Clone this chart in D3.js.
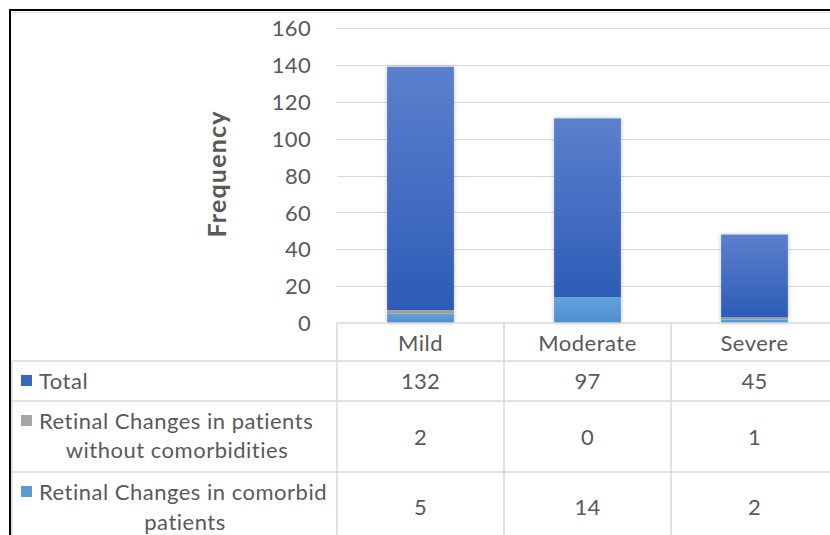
<!DOCTYPE html>
<html>
<head>
<meta charset="utf-8">
<script src="https://cdn.jsdelivr.net/npm/d3@7"></script>
<style>
  html, body { margin: 0; padding: 0; background: #fff; }
  svg { display: block; }
  text { font-family: Lato, "Open Sans", sans-serif; fill: #595959; }
</style>
</head>
<body>
<svg id="chart" width="830" height="535"></svg>
<script>
// ---- data ----
const categories = ["Mild", "Moderate", "Severe"];
const totalValues = [132, 97, 45];
const withoutComorbValues = [2, 0, 1];
const comorbidValues = [5, 14, 2];
const yTicks = [0, 20, 40, 60, 80, 100, 120, 140, 160];
const seriesNames = ["Total", "Retinal Changes in patients without comorbidities", "Retinal Changes in comorbid patients"];

const svg = d3.select("#chart");
const W = 830, H = 535;

// layout
const plotLeft = 337, plotRight = 838, plotTop = 28, plotBottom = 323;
const tableLeft = 12;
const rowLines = [361, 401, 472, 540];

const x = d3.scaleBand().domain(categories).range([plotLeft, plotRight]).paddingInner(0.6).paddingOuter(0.3);
const xBand = d3.scaleBand().domain(categories).range([plotLeft, plotRight]);
const y = d3.scaleLinear().domain([0, 160]).range([plotBottom, plotTop]);

// defs
const defs = svg.append("defs");
function grad(id, c1, c2) {
  const g = defs.append("linearGradient").attr("id", id).attr("x1", 0).attr("y1", 0).attr("x2", 0).attr("y2", 1);
  g.append("stop").attr("offset", "0%").attr("stop-color", c1);
  g.append("stop").attr("offset", "100%").attr("stop-color", c2);
}
grad("gTotal", "#5b80cd", "#2d5cb6");
grad("gWithout", "#aaa29a", "#9a9a9a");
grad("gComorbid", "#64a2dc", "#4d8ecf");
const f = defs.append("filter").attr("id", "shadow").attr("x", "-20%").attr("y", "-5%").attr("width", "140%").attr("height", "110%");
f.append("feDropShadow").attr("dx", 0).attr("dy", 0).attr("stdDeviation", 2).attr("flood-color", "#000").attr("flood-opacity", 0.25);

// frame
svg.append("line").attr("x1", 10).attr("x2", W).attr("y1", 10).attr("y2", 10).attr("stroke", "#000").attr("stroke-width", 2);
svg.append("line").attr("x1", 10).attr("x2", 10).attr("y1", 9).attr("y2", H).attr("stroke", "#000").attr("stroke-width", 2);
svg.append("line").attr("x1", 11).attr("x2", W).attr("y1", 12.5).attr("y2", 12.5).attr("stroke", "#e6e6e6").attr("stroke-width", 1);

// gridlines
svg.append("g").selectAll("line").data(yTicks.filter(d => d > 0)).join("line")
  .attr("x1", plotLeft).attr("x2", W)
  .attr("y1", d => Math.round(y(d)) + 0.5).attr("y2", d => Math.round(y(d)) + 0.5)
  .attr("stroke", "#d9d9d9").attr("stroke-width", 1);

// y axis labels
const yAxis = d3.axisLeft(y).tickValues(yTicks).tickSize(0).tickPadding(0);
const yg = svg.append("g").attr("transform", `translate(${311},0)`).call(yAxis);
yg.select(".domain").remove();
yg.selectAll("text").style("font-family", "Lato, sans-serif").style("font-size", "22px").style("letter-spacing", "0.3px").attr("fill", "#595959").attr("dy", "0.35em");

// y title
svg.append("text").attr("transform", `translate(226,${174}) rotate(-90)`)
  .attr("text-anchor", "middle").style("font-size", "25px").style("font-weight", "bold").style("letter-spacing", "1.2px")
  .attr("fill", "#595959").text("Frequency");

// stacked bars
const rows = categories.map((c, i) => ({ cat: c, comorbid: comorbidValues[i], without: withoutComorbValues[i], total: totalValues[i] }));
const stack = d3.stack().keys(["comorbid", "without", "total"]);
const layers = stack(rows);
const fills = { comorbid: "url(#gComorbid)", without: "url(#gWithout)", total: "url(#gTotal)" };

const barG = svg.append("g");
barG.selectAll("rect.bg").data(rows).join("rect").attr("class", "bg")
  .attr("x", d => x(d.cat)).attr("width", x.bandwidth())
  .attr("y", d => y(d.comorbid + d.without + d.total))
  .attr("height", d => y(0) - y(d.comorbid + d.without + d.total))
  .attr("fill", "#fff").attr("filter", "url(#shadow)");
layers.forEach(layer => {
  barG.append("g").selectAll("rect").data(layer).join("rect")
    .attr("x", d => x(d.data.cat)).attr("width", x.bandwidth())
    .attr("y", d => y(d[1])).attr("height", d => y(d[0]) - y(d[1]))
    .attr("fill", fills[layer.key]);
});

// table lines
const tl = svg.append("g").attr("stroke", "#d9d9d9").attr("stroke-width", 1.5);
tl.append("line").attr("x1", plotLeft).attr("x2", W).attr("y1", plotBottom).attr("y2", plotBottom);
rowLines.slice(0, 3).forEach(yy => tl.append("line").attr("x1", tableLeft).attr("x2", W).attr("y1", yy).attr("y2", yy));
tl.append("line").attr("x1", tableLeft).attr("x2", tableLeft).attr("y1", rowLines[0]).attr("y2", H);
tl.append("line").attr("x1", plotLeft).attr("x2", plotLeft).attr("y1", plotBottom).attr("y2", H);
categories.slice(1).forEach(c => {
  tl.append("line").attr("x1", Math.round(xBand(c))).attr("x2", Math.round(xBand(c))).attr("y1", plotBottom).attr("y2", H);
});

const tableFont = "22px", tableLS = "0.5px";

// category labels
svg.append("g").selectAll("text").data(categories).join("text")
  .attr("x", d => x(d) + x.bandwidth() / 2).attr("y", 343).attr("dy", "0.35em")
  .attr("text-anchor", "middle").style("font-size", tableFont).style("letter-spacing", tableLS).text(d => d);

// table values
const tableRows = [
  { vals: totalValues, y: 381 },
  { vals: withoutComorbValues, y: 437 },
  { vals: comorbidValues, y: 507 }
];
tableRows.forEach(r => {
  svg.append("g").selectAll("text").data(r.vals).join("text")
    .attr("x", (d, i) => x(categories[i]) + x.bandwidth() / 2).attr("y", r.y).attr("dy", "0.35em")
    .attr("text-anchor", "middle").style("font-size", tableFont).style("letter-spacing", "0.3px").text(d => d);
});

// legend keys + labels
const keyColors = ["#3a66c0", "#a5a5a5", "#5b9bd5"];
const keyY = [381, 421, 492];
keyColors.forEach((c, i) => {
  svg.append("rect").attr("x", 21).attr("y", keyY[i] - 6).attr("width", 11).attr("height", 11).attr("fill", c);
});
const legText = [
  { t: "Total", x: 39, y: 381, a: "start" },
  { t: "Retinal Changes in patients", x: 39, y: 421, a: "start" },
  { t: "without comorbidities", x: 177, y: 450, a: "middle" },
  { t: "Retinal Changes in comorbid", x: 39, y: 492, a: "start" },
  { t: "patients", x: 185, y: 522, a: "middle" }
];
svg.append("g").selectAll("text").data(legText).join("text")
  .attr("x", d => d.x).attr("y", d => d.y).attr("dy", "0.35em")
  .attr("text-anchor", d => d.a).style("font-size", tableFont).style("letter-spacing", tableLS).text(d => d.t);
</script>
</body>
</html>
